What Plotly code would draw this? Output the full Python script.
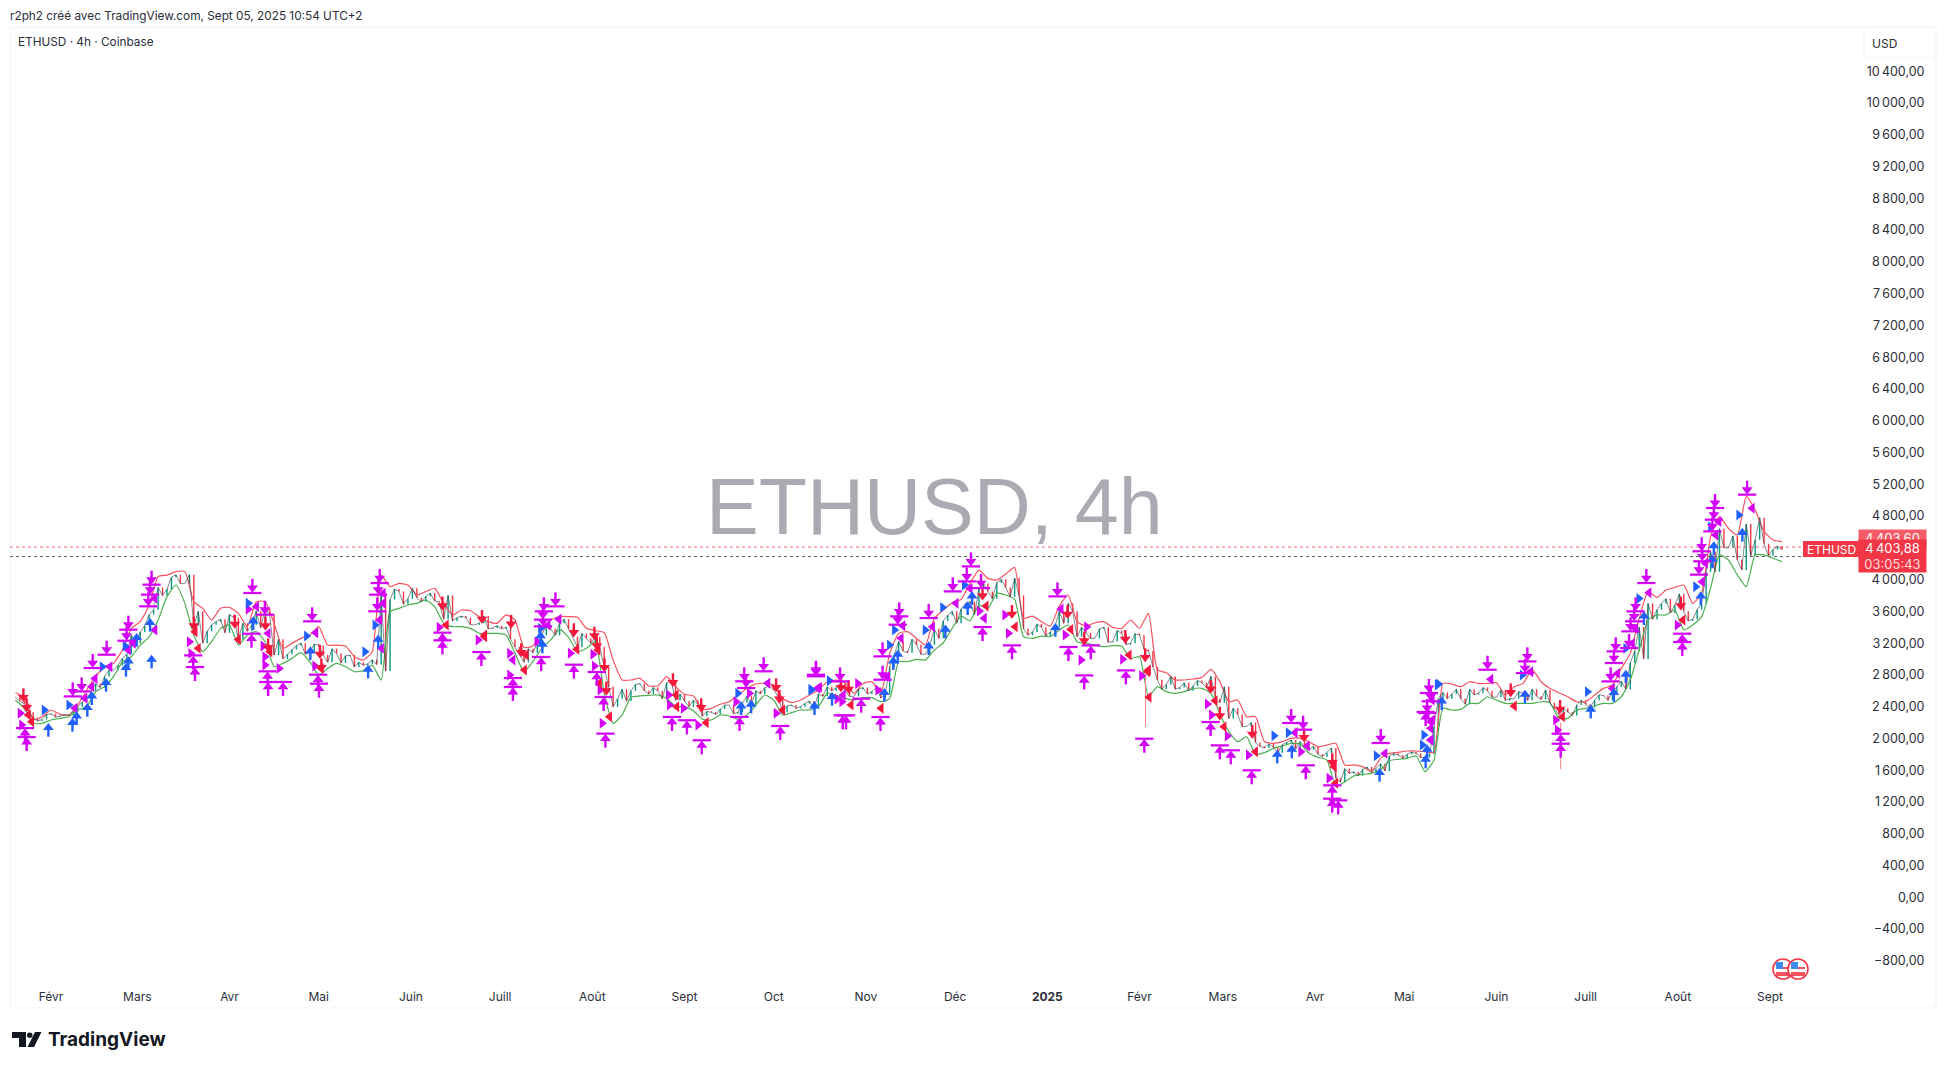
import pandas as pd
import plotly.graph_objects as go

W, H = 1946, 1069
L, R, T, B = 10, 1936, 27, 982

upper = [2576,2517,2240,2274,2358,2303,2295,2421,2610,2777,2903,2945,3113,3386,3470,3680,4037,4057,4100,4100,3722,3638,3491,3638,3650,3575,3407,3722,3722,3449,3134,3197,3260,3302,3407,3176,3176,3164,3029,2987,3092,4057,3911,3953,3932,3806,3848,3890,3701,3554,3617,3608,3533,3470,3449,
3555,3492,3147,3164,3357,3492,3534,3534,3525,3387,3357,3332,2988,2736,2736,2757,2661,2661,2778,2652,2556,2535,2367,2379,2430,2463,2547,2631,2686,2694,2673,2505,2451,2484,2547,2610,
2714,2735,2702,2567,2693,2714,2567,3071,3323,3344,3260,3176,3512,3617,3709,3751,3952,4120,4015,3994,4070,4154,3512,3541,3470,3415,3667,3806,3470,3415,3457,3470,3398,3386,3491,3386,3575,
2862,2828,2736,2736,2748,2769,2870,2715,2463,2484,2274,2274,1959,1938,1959,2001,2001,1959,1896,1917,1938,1666,1666,1645,1582,1749,1812,1825,1842,1842,1833,1825,
2693,2685,2651,2714,2693,2693,2702,2546,2651,2693,2870,2714,2630,2576,2525,2462,2462,2546,2630,2672,2882,3071,3512,3848,3776,3868,3902,3931,3701,
3827,4541,4793,4646,4562,5044,4876,4604,4499,4478]

lower = [2484,2379,2190,2190,2232,2253,2274,2358,2400,2589,2652,2777,2966,3029,3176,3281,3491,3785,3932,3701,3302,3092,3218,3386,3428,3176,3302,3344,3218,2903,2945,3008,3080,2966,2798,2882,2945,2903,2840,2853,2924,2735,3596,3638,3680,3701,3743,3659,3449,3407,3407,3386,3323,3323,3323,
3303,3072,2841,2967,3135,3240,3374,3273,3093,3135,3219,2568,2190,2295,2518,2535,2543,2547,2505,2400,2400,2350,2241,2232,2295,2283,2241,2295,2421,2547,2484,2295,2325,2358,2358,2400,
2567,2546,2504,2484,2513,2513,2463,2504,2966,2966,2996,2987,3113,3205,3386,3541,3482,3680,3638,3827,3806,3751,3281,3260,3289,3281,3365,3428,3218,3197,3176,3155,3168,3163,3008,3029,2526,
2652,2589,2568,2589,2627,2631,2568,2308,2085,1959,2022,1800,1821,1875,1905,1938,1930,1813,1762,1729,1393,1456,1527,1548,1561,1603,1720,1737,1750,1779,1582,1729,
2379,2358,2366,2441,2441,2525,2483,2441,2441,2441,2441,2462,2450,2253,2253,2358,2379,2412,2441,2441,2525,2735,3113,3491,3554,3554,3617,3365,3428,
3533,3890,4310,4247,4058,3911,4310,4310,4268,4226]

close = [2520,2440,2260,2240,2310,2280,2290,2400,2500,2690,2780,2860,3010,3300,3340,3560,3900,3880,4060,3950,3420,3200,3430,3500,3560,3250,3350,3600,3640,3050,3000,3120,3200,3090,3170,2960,3070,3040,2900,2920,2990,3800,3750,3850,3760,3770,3790,3730,3500,3480,3540,3430,3450,3380,3420,
3400,3150,2960,3080,3300,3380,3450,3380,3150,3260,3280,2900,2400,2620,2600,2690,2560,2600,2700,2480,2470,2480,2280,2330,2370,2420,2330,2530,2600,2640,2610,2330,2420,2400,2470,2560,
2650,2640,2600,2530,2640,2590,2510,2900,3220,3080,3180,3060,3380,3480,3600,3630,3720,3880,3850,3960,3900,4020,3380,3340,3400,3340,3600,3700,3280,3330,3260,3400,3220,3320,3200,3300,3100,
2740,2680,2620,2700,2660,2700,2780,2450,2250,2300,2150,1950,1880,1890,1920,1980,1960,1860,1800,1820,1500,1620,1580,1610,1570,1680,1780,1790,1800,1810,1760,2150,
2580,2560,2500,2620,2570,2600,2520,2480,2500,2560,2620,2490,2450,2300,2330,2420,2430,2480,2540,2580,2720,2950,3400,3700,3620,3760,3680,3600,3500,
3700,4350,4640,4400,4250,4700,4500,4450,4380,4380]

# price halfway between each pair of closes above
close_mid = [2470,2330,2220,2300,2270,2300,2340,2460,2590,2640,2860,2920,3060,3200,3420,3620,3800,4030,3950,4060,3600,3350,3470,3330,3520,3450,3430,3390,3560,3250,3060,3170,3060,3190,3050,3130,2950,3050,2960,2940,2930,2850,3880,3690,3890,3720,3830,3720,3800,3520,3520,3430,3540,3390,3380,
3250,3050,3130,3200,3420,3300,3500,3280,3320,3200,3150,2650,2500,2470,2680,2600,2640,2500,2720,2560,2400,2430,2340,2300,2420,2310,2450,2430,2560,2660,2520,2410,2380,2440,2380,2530,
2600,2700,2530,2620,2560,2640,2560,3050,3100,3250,3060,3180,3260,3550,3450,3700,3560,3950,3760,4000,3780,3800,3300,3440,3290,3400,3450,3600,3400,3260,3380,3210,3360,3180,3320,3120,2900,
2620,2780,2640,2600,2730,2640,2500,2650,2380,2150,2200,1900,1930,1820,1950,1870,1900,1900,1770,1880,1450,1560,1530,1640,1620,1590,1810,1750,1830,1760,1800,2500,
2500,2620,2430,2550,2640,2520,2610,2500,2590,2480,2530,2610,2370,2380,2290,2480,2390,2550,2480,2650,2620,3100,3000,3500,3700,3580,3820,3480,3620,
4100,4100,4400,4550,4120,4300,4780,4300,4420]

assert len(upper) == len(lower) == len(close) == 199, (len(upper), len(lower), len(close))
assert len(close_mid) == 198, len(close_mid)

wick_day = [368, 507.6]
wick_top = [2800, 2200]
wick_bottom = [2149, 1612]

tup_day = [-8.2,-8.75,48.4,47.8,73,72.8,78,90.1,89.8,131.6,131.6,144.7,67.4,155.3,155.3,164.8,175.8,186.4,185.8,183.5,208.8,213.8,218.8,231.5,245.2,266.2,267.3,272.4,278.9,313.2,323.1,342.1,347.4,349.6,361.4,367.6,393,396.7,403.7,421.9,430.8,432.8,430.8,389.9,462.2,548.5,548.5,507.6,507.6]
tup_val = [1917,2030,2798,2945,2610,2744,2610,2589,2702,3134,3231,2987,3218,2547,2660,2925,2828,1960,2421,2736,2170,2128,1876,2170,2056,2190,2190,2400,2169,3302,3071,3050,2693,3071,2756,1896,1812,1750,1498,1561,1141,1120,1309,2106,2232,3113,3218,1833,1959]

tdn_day = [7.3,10.3,14,18.7,26,25.4,33.8,33.3,32.7,67.7,71.9,87.8,110.5,110,109.7,165.7,169.6,165.4,165.4,233.1,239.6,257.2,233.7,257.2,265.3,279.6,279.6,285.2,284.7,295.1,303.2,307.9,309.3,312.7,338.4,417,421,447.1,463.3,462.7,463.9,483,496.4,495.6,526.1,525.5,524.4,532.8,532.3,531.1,530.6,536.4,555,555.2,554.1,559.5,559.1,558.6,570.3]
tdn_val = [2630,2693,2987,3155,3470,3331,4037,3911,3764,3932,3659,3575,4057,3911,3701,3701,3764,3512,3597,2820,2946,2883,2736,2903,2819,3134,2840,3638,3533,3617,3952,4078,4267,3994,3889,2295,2211,2043,2673,2421,2568,2966,3071,2924,3197,3050,2819,3701,3575,3449,3239,4057,4457,4331,4163,5002,4855,4708,5170]

rdn_day = [-8.2,-9.3,48,61.8,72.1,73,90.4,90.9,131.6,144.9,154.7,158.1,175.8,182.7,183.5,186.1,186.7,209.1,218.6,243.8,244.9,265.6,268.2,313.2,323.1,341.8,347.4,361.2,367.9,389.9,393,403.9,421.3,430.8,490.8,507.4,548]
rdn_val = [2442,2568,3470,3491,3470,3197,3113,2945,3722,3554,3492,3135,3387,3345,3219,2946,2652,2757,2442,2694,2547,2693,2672,3848,3617,3617,3281,3302,3071,2673,2337,2106,2064,1749,2630,2420,3722]

bup_day = [-0.9,7.2,8.6,12.2,13.7,18.5,25.2,26,28.8,33.8,33.3,68,87.2,106.6,110,164.6,165.2,235.4,232,256.7,262.6,280.2,283.2,284.7,295.1,300.7,308.2,309.7,337.7,412.3,417.2,446.7,462.2,462.7,467.6,495.6,517.7,529.5,525.5,535.6,559.1,558.6,554.7,568.7]
bup_val = [2085,2148,2232,2337,2484,2652,2840,2924,3218,2945,3407,3428,3050,2819,3197,3240,3135,2379,2358,2358,2475,2525,2924,3008,3113,3323,3617,3743,3344,1749,1813,1519,1686,1813,2420,2504,2316,2756,2525,3491,4373,4205,3743,4541]

brt_day = [-2.3,6,17.2,24.9,66.3,85.9,105.5,108.9,164.6,230.9,255.5,255.6,261.7,281.9,283.6,293.9,299.8,307.1,411.2,416,445.6,466.1,461.6,461.1,466.5,494.7,516.6,533.9,529.5,567.5,553,558]
brt_val = [2358,2421,2903,3163,3701,3289,3092,3428,3387,2568,2618,2609,2727,3176,3365,3365,3650,3931,2035,2073,1783,2673,2043,1917,2685,2798,2588,3763,3134,4813,3911,4667]

mrt_day = [-10.4,-9.9,46.5,47,66.3,71.3,71.9,71.9,76.7,88.7,130.5,143.6,154.2,154.2,163.4,174.6,182.2,182.7,184.6,185.3,207.7,207.9,212.6,217.5,230.3,234.8,243.8,264.3,265.9,271.2,278,312.1,320.7,321.9,341,346.3,348.2,360.3,366.7,388.8,390.2,395.5,402.6,420.2,429.7,505.9,506.5,546.8]
mrt_val = [2316,2169,3218,3071,3625,3163,3029,2924,2882,2912,3399,3239,3072,2799,3219,3072,3059,2912,2610,2190,2547,2421,2379,2170,2463,2568,2316,2496,2463,2693,2609,3604,3554,3323,3302,2987,3407,2996,2790,2434,2295,2031,1791,1833,1498,2232,2106,3428]

mlt_day = [8.05,11.4,14.8,13.7,19.8,27.7,26,34.9,34.9,69.1,73,89,111.1,111.7,111.7,110.5,170.8,167.1,155.3,241,257.8,258.4,266.4,286.4,285.8,296.4,304.3,309,313.8,339.6,281.3,418.3,422.4,448.5,463.9,463.9,463.9,464.4,462.7,484.1,497.5,525,526.7,531.7,532.8,537.3,464.5,464,572,560.8,555.2,556.3,559.7]
mlt_val = [2379,2505,2756,2652,2903,3197,3113,3764,3365,3659,3323,3331,3134,3827,3701,3491,3500,3429,2988,2694,2631,2643,2546,3419,3260,3407,3701,3889,3512,3629,2777,2073,1905,1812,2211,2127,1980,2484,2316,2744,2840,2630,2819,3197,3386,3835,2232,1980,4897,4730,3974,4205,4562]

rlt_day = [-6.5,-7.6,49.5,48.4,63,73.6,90.9,132.9,145.8,159.2,145.8,176.8,183.9,184.4,187.8,210.4,220.3,210.2,246,159.8,269,279.1,314.4,324.2,342.9,362.5,368.7,369.2,369,391.4,394.4,405,431.9,431.4,492,508.2,548.7]
rlt_val = [2211,2295,3134,3344,3247,3092,2882,3428,3281,2862,3303,3122,3114,2694,2274,2400,2199,2547,2358,3051,2421,2379,3667,3407,3373,3050,2840,2518,2862,2476,2148,1833,1435,1645,2408,2274,3491]

y_ticks = list(range(-800, 10800, 400))
x_tick_dates = ["2024-02-01","2024-03-01","2024-04-01","2024-05-01","2024-06-01","2024-07-01","2024-08-01","2024-09-01","2024-10-01","2024-11-01","2024-12-01","2025-01-01","2025-02-01","2025-03-01","2025-04-01","2025-05-01","2025-06-01","2025-07-01","2025-08-01","2025-09-01"]
x_tick_text = ["Févr","Mars","Avr","Mai","Juin","Juill","Août","Sept","Oct","Nov","Déc","<b>2025</b>","Févr","Mars","Avr","Mai","Juin","Juill","Août","Sept"]

last_price = 4410
prev_close = 4290

BASE = pd.Timestamp("2024-02-01")
def d(days):
    return BASE + pd.to_timedelta(days, unit="D")
def dates(days):
    return [d(v) for v in days]
def fmt(v):
    s = f"{abs(v):,}".replace(",", "\u2009") + ",00"
    return ("\u2212" + s) if v < 0 else s
def px(x): return (x - L) / (R - L)
def py(y): return (B - y) / (B - T)

RED, MAG, BLUE = "#f7163c", "#d500f9", "#2160ff"
grid = pd.date_range("2024-01-20", periods=len(close), freq="3D")
price = []
for i, c in enumerate(close):
    price.append(c)
    if i < len(close_mid):
        price.append(close_mid[i])
grid2 = pd.date_range("2024-01-20", periods=len(price), freq="36h")
opens = [price[0]] + price[:-1]

fig = go.Figure()
fig.add_trace(go.Scatter(x=[d(-13.8), d(608)], y=[last_price]*2, mode="lines", line=dict(color="#f23645", width=1, dash="dot"), opacity=.75))
fig.add_trace(go.Scatter(x=[d(-13.8), d(608)], y=[prev_close]*2, mode="lines", line=dict(color="#555b66", width=1, dash="dot")))
fig.add_trace(go.Scatter(x=grid, y=upper, mode="lines", line=dict(color="#f7525f", width=1.2, shape="spline", smoothing=.5)))
fig.add_trace(go.Scatter(x=grid, y=lower, mode="lines", line=dict(color="#4caf50", width=1.2, shape="spline", smoothing=.5)))
fig.add_trace(go.Ohlc(x=grid2, open=opens, close=price,
                      high=[max(a, b) for a, b in zip(opens, price)],
                      low=[min(a, b) for a, b in zip(opens, price)],
                      tickwidth=.02,
                      increasing=dict(line=dict(color="#089981", width=1.4)),
                      decreasing=dict(line=dict(color="#f23645", width=1.4))))
fig.add_trace(go.Scatter(x=grid2, y=price, mode="lines", line=dict(color="#39474a", width=.9), opacity=.7))
for wd, wt, wb in zip(wick_day, wick_top, wick_bottom):
    fig.add_trace(go.Scatter(x=[d(wd), d(wd)], y=[wt, wb], mode="lines", line=dict(color="#f7828c", width=1)))

U = 12.59  # price units per pixel on this axis
def arrow(days, vals, color, up, bar):
    n = len(vals)
    sign = 1 if up else -1
    head = [v + sign * (3 if bar else 4) * U for v in vals]
    fig.add_trace(go.Scatter(
        x=dates(days), y=head, mode="markers",
        marker=dict(symbol="triangle-up" if up else "triangle-down", size=9.5, color=color, line=dict(width=0)),
        error_y=dict(type="data", symmetric=False,
                     array=[0 if up else 9 * U] * n, arrayminus=[9 * U if up else 0] * n,
                     thickness=2.4, width=0, color=color)))
    if bar:
        fig.add_trace(go.Scatter(
            x=dates(days), y=[v + sign * 8 * U for v in vals], mode="markers",
            marker=dict(symbol="line-ew", size=13, line=dict(color=color, width=2.2))))

def tri(days, vals, color, right):
    fig.add_trace(go.Scatter(
        x=dates(days), y=vals, mode="markers",
        marker=dict(symbol="triangle-right" if right else "triangle-left", size=9.5, color=color, line=dict(width=0))))

tri(mrt_day, mrt_val, MAG, True)
tri(mlt_day, mlt_val, MAG, False)
tri(brt_day, brt_val, BLUE, True)
tri(rlt_day, rlt_val, RED, False)
arrow(bup_day, bup_val, BLUE, True, False)
arrow(rdn_day, rdn_val, RED, False, False)
arrow(tup_day, tup_val, MAG, True, True)
arrow(tdn_day, tdn_val, MAG, False, True)

FONT = "Inter"
shapes = [
    dict(type="rect", xref="paper", yref="paper", x0=px(10), x1=px(1936), y0=py(1008), y1=py(27),
         line=dict(color="#f0f3fa", width=1), fillcolor="rgba(0,0,0,0)", layer="below"),
    dict(type="rect", xref="paper", yref="paper", x0=px(1864), x1=px(1936), y0=py(58), y1=py(27),
         line=dict(color="#f4f5f9", width=1), fillcolor="rgba(0,0,0,0)", layer="below"),
    dict(type="rect", xref="paper", yref="paper", x0=px(1803), x1=px(1859), y0=py(557), y1=py(541),
         line=dict(width=0), fillcolor="#f23645"),
]
def path_px(points):
    return "M" + " L".join(f"{px(a):.5f},{py(b):.5f}" for a, b in points) + " Z"
for pts in ([(12,1032),(26,1032),(26,1047),(19,1047),(19,1038),(12,1038)],
            [(35,1032),(41.5,1032),(34,1047),(27.5,1047)]):
    shapes.append(dict(type="path", xref="paper", yref="paper", path=path_px(pts), fillcolor="#131722", line=dict(width=0)))
shapes.append(dict(type="circle", xref="paper", yref="paper", x0=px(27), x1=px(32.5), y0=py(1038), y1=py(1032.5), fillcolor="#131722", line=dict(width=0)))
for cx in (1783, 1798):
    cy = 969
    shapes.append(dict(type="circle", xref="paper", yref="paper", x0=px(cx-10), x1=px(cx+10), y0=py(cy+10), y1=py(cy-10),
                       fillcolor="white", line=dict(color="#f23645", width=1.6)))
    shapes.append(dict(type="rect", xref="paper", yref="paper", x0=px(cx-7), x1=px(cx+7), y0=py(cy+7), y1=py(cy+3), fillcolor="#f7525f", line=dict(width=0)))
    shapes.append(dict(type="rect", xref="paper", yref="paper", x0=px(cx), x1=px(cx+7), y0=py(cy), y1=py(cy-2), fillcolor="#f7525f", line=dict(width=0)))
    shapes.append(dict(type="rect", xref="paper", yref="paper", x0=px(cx-7), x1=px(cx), y0=py(cy), y1=py(cy-7), fillcolor="#3d8bf2", line=dict(width=0)))

def note(x, y, text, size=12, color="#131722", xanchor="left", yanchor="middle", family=FONT, **kw):
    return dict(xref="paper", yref="paper", x=px(x), y=py(y), text=text, showarrow=False,
                font=dict(size=size, color=color, family=family), xanchor=xanchor, yanchor=yanchor, **kw)

annotations = [
    note(8, 16, "r2ph2 créé avec TradingView.com, Sept 05, 2025 10:54 UTC+2", 11.8, "#2a2e39"),
    note(16, 42, "ETHUSD · 4h · Coinbase", 11.8, "#2a2e39"),
    note(1870, 43, "USD", 12, "#2a2e39"),
    note(934, 506, "ETHUSD, 4h", 79, "#a9aab2", xanchor="center", family="Liberation Sans"),
    note(46, 1039, "<b>TradingView</b>", 19, "#131722"),
    note(1831, 549, "ETHUSD", 12, "#ffffff", xanchor="center"),
    note(1892.5, 538, "4\u2009403,60", 13, "#ffffff", xanchor="center", bgcolor="#f65c68", width=65, height=14),
    note(1892.5, 556, "4\u2009403,88<br><span style='color:#ffd9dc'>03:05:43</span>", 13, "#ffffff", xanchor="center",
         bgcolor="#f23645", width=65, height=30),
]

fig.update_layout(
    width=W, height=H, autosize=False, showlegend=False, hovermode=False,
    paper_bgcolor="white", plot_bgcolor="white",
    margin=dict(l=L, r=W - R, t=T, b=H - B, pad=0),
    font=dict(family=FONT, size=12, color="#2a2e39"),
    shapes=shapes, annotations=annotations,
    xaxis=dict(type="date", range=[d(-13.8), d(633.8)], rangeslider=dict(visible=False),
               tickmode="array", tickvals=x_tick_dates, ticktext=x_tick_text, tickangle=0,
               showgrid=False, zeroline=False, showline=False, ticks="outside", ticklen=4, tickcolor="white",
               tickfont=dict(size=12, color="#2a2e39", family=FONT)),
    yaxis=dict(range=[(897.3 - B) * U, (897.3 - T) * U], anchor="free", position=(1924.5 - L) / (R - L), side="left",
               tickmode="array", tickvals=y_ticks, ticktext=[fmt(v) for v in y_ticks],
               showgrid=False, zeroline=False, showline=False, ticks="",
               tickfont=dict(size=12.5, color="#2a2e39", family=FONT)),
)
fig.write_html("out.html", config=dict(displayModeBar=False), post_script="document.body.style.margin='0';document.body.style.overflow='hidden';")
